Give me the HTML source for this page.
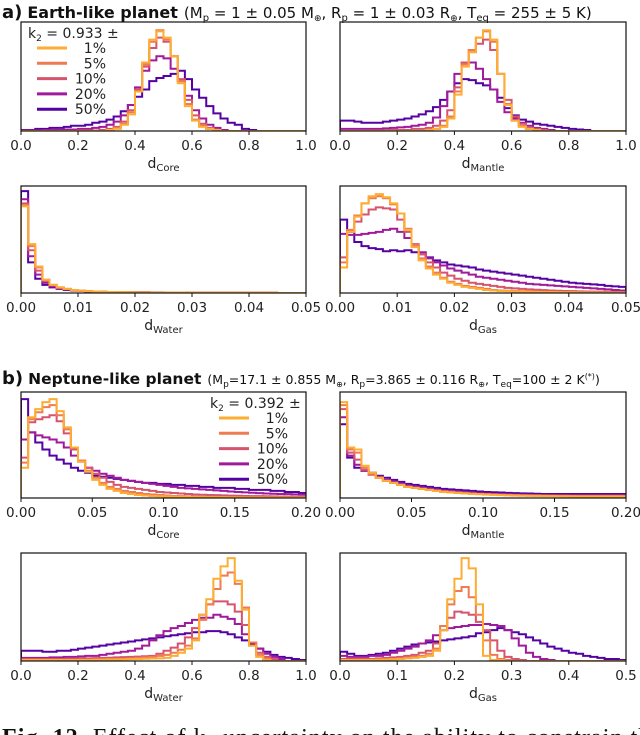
<!DOCTYPE html>
<html><head><meta charset="utf-8">
<style>
html,body{margin:0;padding:0;background:#fff;}
body{width:640px;height:735px;overflow:hidden;position:relative;}
svg{position:absolute;left:0;top:0;}
text{font-family:"DejaVu Sans","Liberation Sans",sans-serif;}
text.serif{font-family:"Liberation Serif",serif;}
</style></head>
<body>
<svg id="fig" width="640" height="735" viewBox="0 0 640 735" xmlns="http://www.w3.org/2000/svg">
  <text x="2" y="18" font-size="15" fill="#111"><tspan font-weight="bold" font-size="18">a)</tspan><tspan font-weight="bold" dx="5" font-size="16">Earth-like planet</tspan><tspan dx="6" font-size="15">(M</tspan><tspan font-size="10" dy="3">p</tspan><tspan font-size="15" dy="-3"> = 1 ± 0.05 M</tspan><tspan font-size="9" dy="3">⊕</tspan><tspan font-size="15" dy="-3">, R</tspan><tspan font-size="10" dy="3">p</tspan><tspan font-size="15" dy="-3"> = 1 ± 0.03 R</tspan><tspan font-size="9" dy="3">⊕</tspan><tspan font-size="15" dy="-3">, T</tspan><tspan font-size="10" dy="3">eq</tspan><tspan font-size="15" dy="-3"> = 255 ± 5 K)</tspan></text>
  <text x="2" y="384" font-size="14" fill="#111"><tspan font-weight="bold" font-size="18">b)</tspan><tspan font-weight="bold" dx="5" font-size="15.5">Neptune-like planet</tspan><tspan dx="6" font-size="12.5">(M</tspan><tspan font-size="9" dy="3">p</tspan><tspan font-size="12.5" dy="-3">=17.1 ± 0.855 M</tspan><tspan font-size="8" dy="3">⊕</tspan><tspan font-size="12.5" dy="-3">, R</tspan><tspan font-size="9" dy="3">p</tspan><tspan font-size="12.5" dy="-3">=3.865 ± 0.116 R</tspan><tspan font-size="8" dy="3">⊕</tspan><tspan font-size="12.5" dy="-3">, T</tspan><tspan font-size="9" dy="3">eq</tspan><tspan font-size="12.5" dy="-3">=100 ± 2 K</tspan><tspan font-size="8" dy="-5">(*)</tspan><tspan font-size="12.5" dy="5">)</tspan></text>
  <text class="serif" x="2" y="745" font-size="24" fill="#111" textLength="660" lengthAdjust="spacing"><tspan font-weight="bold">Fig. 12.</tspan> Effect of k₂ uncertainty on the ability to constrain the</text>
  <g id="panels"></g>
</svg>
<script>
// ---- data (fraction of panel height per bin; 40 bins per panel, missing = 0) ----
const seriesLabels = ["1%","5%","10%","20%","50%"];
const coreA_1  = [0,0,0,0,0,0,0,0,0,0,0,0,.01,.02,.06,.16,.38,.66,.88,.96,.9,.72,.46,.24,.1,.04,.02,.01];
const coreA_5  = [0,0,0,0,0,0,0,0,0,0,0,0,.01,.03,.07,.18,.38,.64,.86,.97,.88,.72,.48,.26,.11,.05,.02,.01];
const coreA_10 = [0,0,0,0,0,0,0,0,.005,.005,.005,.01,.02,.04,.09,.2,.4,.62,.8,.9,.86,.72,.5,.3,.15,.07,.03,.01];
const coreA_20 = [.005,.005,.005,.01,.01,.01,.015,.015,.02,.02,.03,.04,.06,.09,.15,.25,.42,.58,.68,.72,.7,.6,.48,.34,.2,.12,.06,.03,.01];
const coreA_50 = [.01,.01,.02,.02,.03,.03,.04,.05,.05,.06,.08,.09,.11,.14,.19,.25,.33,.4,.48,.51,.53,.55,.58,.5,.4,.32,.24,.17,.12,.08,.06,.02,.01];

const mantA_1  = [0,0,0,0,0,0,0,0,0,0,0,0,.01,.02,.04,.12,.35,.62,.76,.9,.97,.88,.55,.25,.1,.04,.02,.01];
const mantA_5  = [0,0,0,0,0,0,0,0,0,0,0,0,.01,.02,.05,.14,.38,.64,.78,.9,.96,.86,.55,.26,.1,.05,.02,.01];
const mantA_10 = [0,0,0,0,.005,.005,.005,.01,.01,.01,.02,.02,.03,.05,.1,.2,.42,.66,.76,.84,.88,.78,.55,.3,.14,.07,.03,.02,.01];
const mantA_20 = [.02,.02,.02,.02,.02,.02,.025,.03,.035,.04,.05,.06,.08,.13,.24,.38,.55,.64,.66,.6,.5,.4,.28,.18,.12,.08,.05,.03,.02,.01];
const mantA_50 = [.1,.1,.09,.08,.08,.08,.09,.1,.11,.12,.14,.16,.19,.23,.3,.38,.46,.5,.49,.46,.44,.4,.32,.22,.15,.11,.09,.07,.06,.05,.04,.03,.02,.015,.01];

const watA_1  = [.85,.48,.26,.13,.08,.055,.04,.03,.022,.018,.015,.012,.01,.009,.008,.007,.006,.006,.005,.005,.004,.004,.004,.003,.003,.003,.003,.003,.002,.002,.002,.002,.002,.002,.002,.002];
const watA_5  = [.86,.46,.25,.13,.08,.055,.04,.03,.022,.018,.015,.012,.01,.009,.008,.007,.006,.006,.005,.005,.004,.004,.004,.003,.003,.003,.003,.003,.002,.002,.002,.002,.002,.002,.002,.002];
const watA_10 = [.88,.42,.22,.12,.075,.05,.038,.028,.022,.018,.015,.012,.01,.009,.008,.007,.006,.006,.005,.005,.004,.004,.004,.003,.003,.003,.003,.003,.002,.002,.002,.002,.002,.002,.002,.002];
const watA_20 = [.92,.36,.18,.1,.065,.045,.035,.026,.02,.016,.014,.012,.01,.009,.008,.007,.006,.006,.005,.005,.004,.004,.004,.003,.003,.003,.003,.003,.003,.003,.003,.003,.003,.003,.003,.003];
const watA_50 = [1.0,.3,.14,.08,.055,.04,.03,.024,.02,.016,.014,.012,.01,.009,.008,.008,.007,.007,.006,.006,.005,.005,.005,.004,.004,.004,.004,.004,.004,.004,.004,.004,.004,.004,.004,.004];

const gasA_1  = [.25,.6,.75,.88,.95,.97,.94,.88,.78,.62,.45,.32,.24,.18,.14,.1,.08,.06,.05,.04,.03,.025,.02,.018,.015,.013,.011,.01,.009,.008,.007,.006,.006,.005,.005,.004,.004,.004,.003,.003];
const gasA_5  = [.3,.62,.76,.88,.93,.95,.93,.87,.78,.63,.47,.34,.26,.2,.15,.11,.09,.07,.06,.05,.04,.03,.025,.022,.02,.018,.016,.014,.012,.011,.01,.009,.008,.007,.006,.006,.005,.005,.004,.004];
const gasA_10 = [.35,.6,.7,.77,.82,.84,.83,.82,.72,.6,.48,.38,.3,.25,.2,.17,.14,.12,.1,.09,.08,.07,.06,.05,.045,.04,.036,.032,.028,.025,.022,.02,.018,.016,.015,.014,.013,.012,.011,.01];
const gasA_20 = [.58,.57,.57,.58,.59,.6,.62,.63,.6,.54,.46,.4,.34,.3,.27,.24,.22,.2,.18,.16,.15,.14,.13,.12,.11,.1,.09,.085,.08,.075,.07,.065,.06,.055,.05,.045,.04,.035,.03,.025];
const gasA_50 = [.72,.6,.5,.46,.44,.43,.41,.42,.41,.42,.4,.38,.35,.32,.3,.28,.27,.26,.25,.23,.22,.21,.2,.19,.18,.17,.16,.15,.14,.13,.12,.11,.1,.095,.09,.085,.08,.07,.065,.06];

const coreB_1  = [.3,.8,.88,.95,.98,.86,.7,.5,.36,.26,.18,.13,.09,.07,.05,.04,.03,.025,.02,.017,.015,.013,.011,.01,.009,.008,.007,.006,.006,.005,.005,.004,.004,.004,.003,.003,.003,.003,.003,.003];
const coreB_5  = [.35,.78,.85,.9,.92,.82,.68,.5,.37,.27,.2,.15,.11,.09,.07,.06,.05,.04,.035,.03,.025,.02,.018,.016,.014,.013,.012,.011,.01,.009,.008,.008,.007,.007,.006,.006,.006,.005,.005,.005];
const coreB_10 = [.4,.75,.78,.8,.82,.76,.64,.48,.37,.3,.24,.2,.16,.13,.11,.1,.09,.08,.07,.06,.055,.05,.045,.04,.035,.032,.03,.028,.026,.024,.022,.02,.019,.018,.017,.016,.015,.014,.013,.012];
const coreB_20 = [.58,.65,.62,.6,.58,.55,.5,.42,.36,.3,.27,.24,.22,.2,.18,.17,.16,.15,.14,.13,.12,.11,.1,.095,.09,.085,.08,.075,.07,.065,.06,.056,.052,.048,.045,.042,.04,.038,.036,.034];
const coreB_50 = [.98,.65,.55,.48,.42,.38,.34,.3,.27,.25,.22,.21,.2,.19,.18,.17,.16,.15,.15,.14,.14,.13,.13,.12,.12,.11,.11,.1,.1,.1,.09,.09,.08,.08,.08,.07,.07,.06,.06,.05];

const mantB_1  = [.95,.5,.48,.32,.25,.2,.17,.15,.13,.11,.1,.09,.08,.07,.06,.055,.05,.045,.04,.037,.034,.031,.028,.026,.024,.022,.021,.02,.019,.018,.017,.016,.016,.015,.015,.015,.015,.015,.015,.015];
const mantB_5  = [.92,.48,.45,.3,.24,.2,.17,.15,.13,.11,.1,.09,.08,.072,.065,.058,.052,.047,.043,.04,.037,.034,.031,.029,.027,.025,.024,.023,.022,.021,.02,.02,.019,.019,.018,.018,.018,.018,.018,.018];
const mantB_10 = [.88,.45,.38,.28,.23,.2,.17,.15,.13,.11,.1,.09,.082,.075,.068,.062,.056,.05,.046,.042,.039,.036,.034,.032,.03,.028,.027,.026,.025,.024,.023,.023,.022,.022,.022,.022,.022,.022,.022,.022];
const mantB_20 = [.8,.42,.33,.27,.24,.21,.18,.16,.14,.12,.11,.1,.09,.08,.072,.066,.06,.055,.05,.046,.043,.04,.038,.036,.034,.032,.031,.03,.029,.028,.027,.027,.026,.026,.026,.026,.026,.026,.026,.026];
const mantB_50 = [.73,.4,.3,.27,.25,.22,.2,.18,.16,.14,.13,.12,.11,.1,.09,.085,.08,.075,.07,.065,.06,.057,.054,.051,.048,.046,.044,.042,.04,.04,.04,.04,.04,.04,.04,.04,.04,.04,.04,.04];

const watB_1  = [.01,.01,.01,.01,.01,.01,.01,.01,.01,.01,.012,.012,.014,.015,.016,.018,.02,.022,.024,.026,.03,.05,.08,.12,.2,.45,.6,.8,.92,1.0,.78,.5,.15,.04,.01];
const watB_5  = [.01,.01,.01,.01,.01,.01,.01,.01,.012,.012,.014,.016,.018,.02,.022,.025,.03,.035,.04,.05,.06,.08,.11,.15,.22,.4,.55,.7,.83,.86,.75,.52,.18,.06,.02];
const watB_10 = [.02,.02,.02,.02,.02,.02,.02,.022,.024,.026,.028,.03,.032,.035,.038,.04,.043,.046,.05,.07,.1,.13,.17,.23,.32,.45,.55,.58,.58,.55,.48,.35,.15,.08,.04,.02];
const watB_20 = [.03,.03,.03,.03,.035,.035,.04,.04,.045,.05,.05,.06,.07,.08,.09,.1,.12,.15,.2,.25,.29,.32,.34,.37,.4,.42,.42,.45,.43,.41,.36,.26,.18,.12,.07,.04,.02];
const watB_50 = [.1,.1,.1,.09,.09,.1,.1,.11,.12,.13,.14,.15,.16,.17,.18,.19,.2,.21,.22,.23,.24,.25,.26,.27,.28,.28,.29,.29,.28,.26,.23,.2,.16,.12,.09,.06,.04,.03,.02,.01];

const gasB_1  = [.01,.01,.01,.01,.01,.012,.014,.016,.02,.025,.03,.04,.05,.1,.3,.6,.8,1.0,.9,.55,.05,.01,.01];
const gasB_5  = [.01,.01,.01,.01,.012,.014,.016,.02,.025,.03,.04,.05,.07,.12,.34,.55,.68,.72,.62,.45,.2,.06,.02,.01];
const gasB_10 = [.02,.02,.02,.02,.02,.025,.03,.035,.04,.05,.06,.08,.1,.17,.3,.42,.48,.47,.45,.38,.3,.2,.1,.04,.02,.01];
const gasB_20 = [.05,.04,.04,.04,.05,.05,.06,.08,.1,.12,.14,.17,.2,.25,.3,.32,.33,.34,.35,.35,.36,.35,.34,.3,.22,.15,.08,.04,.02,.01];
const gasB_50 = [.09,.07,.05,.05,.06,.07,.08,.1,.12,.14,.16,.17,.18,.19,.2,.21,.22,.23,.24,.27,.28,.3,.32,.3,.28,.26,.23,.2,.17,.14,.12,.1,.08,.07,.05,.04,.03,.02,.02,.01];

const ticksA1 = ["0.0","0.2","0.4","0.6","0.8","1.0"];
const ticksA3 = ["0.00","0.01","0.02","0.03","0.04","0.05"];
const ticksB1 = ["0.00","0.05","0.10","0.15","0.20"];
const ticksB4 = ["0.0","0.1","0.2","0.3","0.4","0.5"];

// ---- layout ----
const colors = ["#fdad32","#ee7b51","#d5546e","#a01a9c","#5402a3"];
const NS="http://www.w3.org/2000/svg";
const root=document.getElementById('panels');
function mk(tag,attrs,parent){const e=document.createElementNS(NS,tag);for(const k in attrs)e.setAttribute(k,attrs[k]);(parent||root).appendChild(e);return e;}

const panels=[
 {name:"core-a",x0:21,x1:306,y0:22,y1:131,xmax:1,ticks:ticksA1,sub:"Core",data:[coreA_1,coreA_5,coreA_10,coreA_20,coreA_50],legend:{x:28,k:"0.933"}},
 {name:"mantle-a",x0:340,x1:626,y0:22,y1:131,xmax:1,ticks:ticksA1,sub:"Mantle",data:[mantA_1,mantA_5,mantA_10,mantA_20,mantA_50]},
 {name:"water-a",x0:21,x1:306,y0:186,y1:293,xmax:0.05,ticks:ticksA3,sub:"Water",data:[watA_1,watA_5,watA_10,watA_20,watA_50]},
 {name:"gas-a",x0:340,x1:626,y0:186,y1:293,xmax:0.05,ticks:ticksA3,sub:"Gas",data:[gasA_1,gasA_5,gasA_10,gasA_20,gasA_50]},
 {name:"core-b",x0:21,x1:306,y0:392,y1:498,xmax:0.2,ticks:ticksB1,sub:"Core",data:[coreB_1,coreB_5,coreB_10,coreB_20,coreB_50],legend:{x:210,k:"0.392"}},
 {name:"mantle-b",x0:340,x1:626,y0:392,y1:498,xmax:0.2,ticks:ticksB1,sub:"Mantle",data:[mantB_1,mantB_5,mantB_10,mantB_20,mantB_50]},
 {name:"water-b",x0:21,x1:306,y0:553,y1:661,xmax:1,ticks:ticksA1,sub:"Water",data:[watB_1,watB_5,watB_10,watB_20,watB_50]},
 {name:"gas-b",x0:340,x1:626,y0:553,y1:661,xmax:0.5,ticks:ticksB4,sub:"Gas",data:[gasB_1,gasB_5,gasB_10,gasB_20,gasB_50]}
];
const NB=40;
panels.forEach(p=>{
  const g=mk('g',{});
  
  
  const xs=v=>p.x0+(v/p.xmax)*(p.x1-p.x0);
  const H=p.y1-p.y0;
  const ys=v=>p.y1-(v/1.05)*H;
  const cid='clip-'+p.name;
  const cp=mk('clipPath',{id:cid},g);
  mk('rect',{x:p.x0,y:p.y0,width:p.x1-p.x0,height:H},cp);
  const sg=mk('g',{'clip-path':'url(#'+cid+')'},g);
  for(let s=4;s>=0;s--){
    const arr=p.data[s];
    let d='M'+xs(0)+','+ys(0);
    for(let i=0;i<NB;i++){
      const v=arr[i]||0;
      d+=' L'+xs(i*p.xmax/NB).toFixed(2)+','+ys(v).toFixed(2)+' L'+xs((i+1)*p.xmax/NB).toFixed(2)+','+ys(v).toFixed(2);
    }
    d+=' L'+xs(p.xmax)+','+ys(0);
    const path=mk('path',{d:d,fill:'none',stroke:colors[s],'stroke-width':2,'stroke-linejoin':'miter'},sg);
    
    
  }
  const frame=mk('rect',{x:p.x0,y:p.y0,width:p.x1-p.x0,height:H,fill:'none',stroke:'#111','stroke-width':1.2},g);
  
  
  const n=p.ticks.length;
  p.ticks.forEach((t,i)=>{
    const x=xs(i*p.xmax/(n-1));
    mk('line',{x1:x,x2:x,y1:p.y1,y2:p.y1+4,stroke:'#111','stroke-width':1},g);
    const tx=mk('text',{x:x,y:p.y1+19,'text-anchor':'middle','font-size':13.5,fill:'#222'},g);
    tx.textContent=t;
    
    
  });
  const lab=mk('text',{x:(p.x0+p.x1)/2,y:p.y1+37,'text-anchor':'middle','font-size':14,fill:'#222'},g);
  
  
  const t1=mk('tspan',{},lab);t1.textContent='d';
  const t2=mk('tspan',{'font-size':10,dy:3},lab);t2.textContent=p.sub;
  if(p.legend){
    const L=mk('g',{},g);
    
    
    const lx=p.legend.x;
    const kt=mk('text',{x:lx,y:p.y0+16,'font-size':14,fill:'#222'},L);
    const a=mk('tspan',{},kt);a.textContent='k';
    const b=mk('tspan',{'font-size':9,dy:3},kt);b.textContent='2';
    const c=mk('tspan',{dy:-3},kt);c.textContent=' = '+p.legend.k+' ±';
    for(let s=0;s<5;s++){
      const y=p.y0+26+s*15.3;
      const ent=mk('g',{},L);
      
      
      mk('line',{x1:lx+9,x2:lx+39,y1:y,y2:y,stroke:colors[s],'stroke-width':3},ent);
      const tt=mk('text',{x:lx+78,y:y+5,'text-anchor':'end','font-size':14,fill:'#222'},ent);
      tt.textContent=seriesLabels[s];
    }
  }
});
</script>
</body></html>
